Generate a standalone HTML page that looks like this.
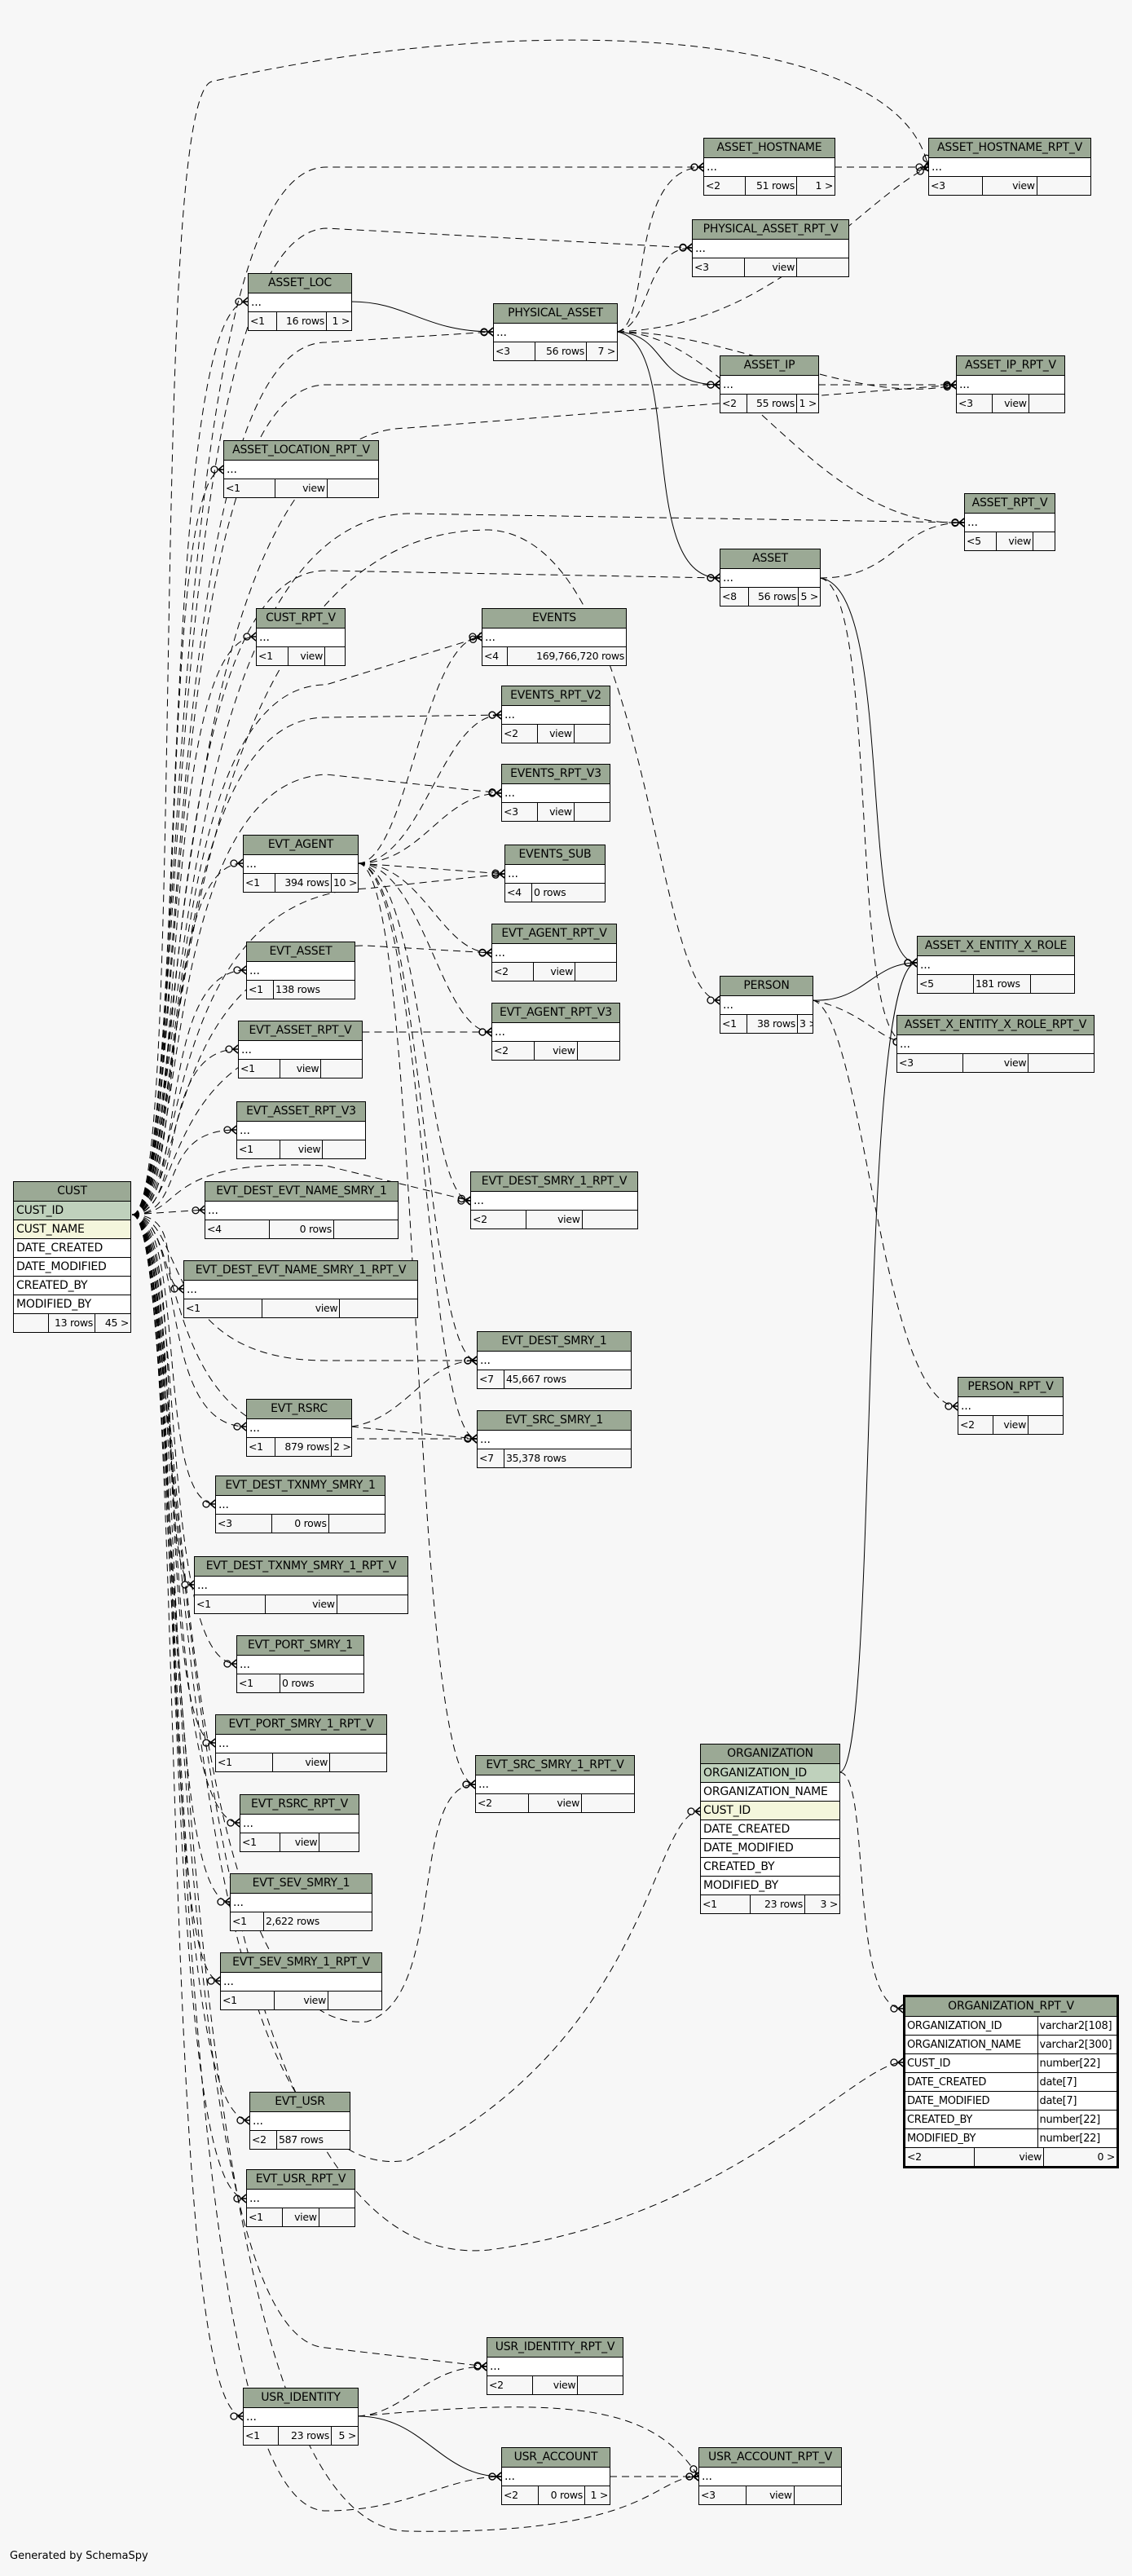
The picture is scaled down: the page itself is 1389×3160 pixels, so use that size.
<!DOCTYPE html>
<html><head><meta charset="utf-8"><style>
body{margin:0;width:1389px;height:3160px;background:#f7f7f7;position:relative;overflow:hidden;font-family:"DejaVu Sans","Liberation Sans",sans-serif}
.t{position:absolute;border:1px solid #000;background:#fff;font-size:14px;box-sizing:border-box;z-index:2}
.h{height:23px;background:#9ba995;text-align:center;border-bottom:1px solid #000;line-height:23px;white-space:nowrap;overflow:hidden;letter-spacing:-0.2px}
.r{height:22px;border-bottom:1px solid #000;line-height:22px;padding-left:3px;white-space:nowrap;overflow:hidden;letter-spacing:-0.2px}
.f{display:flex;height:22px;line-height:22px;background:#f7f7f7;font-size:12.5px;letter-spacing:-0.3px}
.f span{flex:1;border-right:1px solid #000;padding:0 2px;white-space:nowrap;overflow:hidden}
.f span:last-child{border-right:0;text-align:right}
.f span:nth-child(2){text-align:right}
.pk{background:#bfd1bc}.ix{background:#f4f6dc}
.o td{border-right:1px solid #000;border-bottom:1px solid #000;height:22px;padding:0 2px;white-space:nowrap;font-size:13px;letter-spacing:-0.3px;overflow:hidden}
svg{position:absolute;left:0;top:0;z-index:1}
</style></head><body>
<svg width="1389" height="3160" viewBox="0 0 1389 3160">
<defs><marker id="m" markerUnits="userSpaceOnUse" viewBox="-16 -7 17 14" refX="0" refY="0" markerWidth="17" markerHeight="14" orient="auto"><circle cx="-11" cy="0" r="4" fill="none" stroke="#000" stroke-width="1.3"/><path d="M-6 0L0 -5M-6 0L0 5M-6 0L0 0" stroke="#000" stroke-width="1.5" fill="none"/></marker></defs>
<g fill="none" stroke="#000" stroke-width="1" stroke-dasharray="9,6" marker-end="url(#m)">
<path d="M162 1490C230 1490 180 120 260 100 C600 20 1100 20 1139 205"/>
<path d="M162 1490C230 1490 190 205 400 205 L863 205"/>
<path d="M162 1490C230 1490 190 290 400 280 L849 304"/>
<path d="M162 1490C230 1490 190 370 304 370"/>
<path d="M162 1490C230 1490 190 420 400 420 L605 407"/>
<path d="M162 1490C230 1490 190 472 400 472 L883 472"/>
<path d="M162 1490C230 1490 190 530 500 525 L1173 472"/>
<path d="M162 1490C230 1490 190 576 274 576"/>
<path d="M162 1490C230 1490 190 640 500 630 L1183 641"/>
<path d="M162 1490C230 1490 190 700 400 700 L883 709"/>
<path d="M162 1490C230 1490 190 781 314 781"/>
<path d="M162 1490C230 1490 190 840 400 840 L591 781"/>
<path d="M162 1490C230 1490 190 880 400 880 L615 877"/>
<path d="M162 1490C230 1490 190 960 400 950 L615 973"/>
<path d="M162 1490C230 1490 190 1059 298 1059"/>
<path d="M162 1490C230 1490 190 1100 450 1090 L619 1072"/>
<path d="M162 1490C230 1490 190 1190 302 1190"/>
<path d="M162 1490C230 1490 190 1160 450 1160 L603 1169"/>
<path d="M162 1490C230 1490 190 650 600 650 C800 660 800 1227 883 1227"/>
<path d="M162 1490C230 1490 190 1266 450 1266 L603 1266"/>
<path d="M162 1490C230 1490 190 1287 292 1287"/>
<path d="M162 1490C230 1490 190 1386 290 1386"/>
<path d="M162 1490L251 1484"/>
<path d="M162 1490C230 1490 190 1581 225 1581"/>
<path d="M162 1490C230 1490 190 1420 400 1430 L577 1473"/>
<path d="M162 1490C230 1490 190 1669 400 1669 L585 1669"/>
<path d="M162 1490C230 1490 190 1765 400 1765 L585 1765"/>
<path d="M162 1490C230 1490 190 1750 302 1750"/>
<path d="M162 1490C230 1490 190 1845 264 1845"/>
<path d="M162 1490C230 1490 190 1944 238 1944"/>
<path d="M162 1490C230 1490 190 2041 290 2041"/>
<path d="M162 1490C230 1490 190 2138 264 2138"/>
<path d="M162 1490C230 1490 190 2236 294 2236"/>
<path d="M162 1490C230 1490 190 2333 282 2333"/>
<path d="M162 1490C230 1490 190 2430 270 2430"/>
<path d="M162 1490C230 1490 190 2500 450 2480 C550 2450 500 2189 583 2189"/>
<path d="M162 1490C230 1490 190 2700 500 2650 C800 2500 800 2222 859 2222"/>
<path d="M162 1490C230 1490 190 2800 600 2760 C900 2720 1050 2530 1108 2530"/>
<path d="M162 1490C230 1490 190 2601 306 2601"/>
<path d="M162 1490C230 1490 190 2697 302 2697"/>
<path d="M162 1490C230 1490 190 2870 400 2880 L597 2903"/>
<path d="M162 1490C230 1490 190 2964 298 2964"/>
<path d="M162 1490C230 1490 190 3080 400 3080 C500 3080 550 3038 615 3038"/>
<path d="M162 1490C230 1490 190 3100 500 3105 C800 3110 800 3038 857 3038"/>
<path d="M757 407C800 400 770 205 863 205"/>
<path d="M757 407C800 400 790 304 849 304"/>
<path d="M757 407C900 407 1050 500 1173 472"/>
<path d="M757 407C900 407 1000 650 1183 641"/>
<path d="M757 407C950 400 1050 250 1139 205"/>
<path d="M1024 205L1139 205"/>
<path d="M1004 472L1173 472"/>
<path d="M1006 709C1100 709 1100 641 1183 641"/>
<path d="M1006 709C1080 720 1040 1278 1111 1278"/>
<path d="M997 1227C1060 1240 1080 1278 1111 1278"/>
<path d="M997 1227C1060 1240 1080 1725 1175 1725"/>
<path d="M439 1059C500 1059 520 781 591 781"/>
<path d="M439 1059C520 1059 540 877 615 877"/>
<path d="M439 1059C520 1059 540 973 615 973"/>
<path d="M439 1059L619 1072"/>
<path d="M439 1059C520 1059 540 1169 603 1169"/>
<path d="M439 1059C520 1059 540 1266 603 1266"/>
<path d="M439 1059C520 1059 520 1473 577 1473"/>
<path d="M439 1059C520 1059 520 1669 585 1669"/>
<path d="M439 1059C520 1059 520 1765 585 1765"/>
<path d="M439 1059C520 1059 500 2189 583 2189"/>
<path d="M431 1750C500 1740 520 1669 585 1669"/>
<path d="M431 1750L585 1765"/>
<path d="M1030 2174C1070 2174 1040 2464 1108 2464"/>
<path d="M439 2964C500 2960 520 2903 597 2903"/>
<path d="M439 2964C700 2940 800 2950 857 3038"/>
<path d="M748 3038L857 3038"/>
</g>
<g fill="none" stroke="#000" stroke-width="1" marker-end="url(#m)">
<path d="M431 370C500 370 520 407 605 407"/>
<path d="M757 407C820 410 800 472 883 472"/>
<path d="M757 407C840 420 780 709 883 709"/>
<path d="M1006 709C1100 720 1050 1181 1125 1181"/>
<path d="M997 1227C1060 1230 1070 1181 1125 1181"/>
<path d="M1030 2174C1080 2174 1050 1181 1125 1181"/>
<path d="M439 2964C520 2964 540 3038 615 3038"/>
</g>
</svg>

<div class="t" style="left:16px;top:1449px;width:145px"><div class="h">CUST</div><div class="r pk">CUST_ID</div><div class="r ix">CUST_NAME</div><div class="r">DATE_CREATED</div><div class="r">DATE_MODIFIED</div><div class="r">CREATED_BY</div><div class="r">MODIFIED_BY</div><div class="f"><span style="flex:0 0 38px"></span><span style="flex:0 0 52px">13 rows</span><span>45 &gt;</span></div></div>

<div class="t" style="left:863px;top:169px;width:162px"><div class="h">ASSET_HOSTNAME</div><div class="r">...</div><div class="f"><span style="flex:0 0 46px">&lt;2</span><span style="flex:0 0 58px">51 rows</span><span>1 &gt;</span></div></div>
<div class="t" style="left:1139px;top:169px;width:200px"><div class="h">ASSET_HOSTNAME_RPT_V</div><div class="r">...</div><div class="f"><span>&lt;3</span><span>view</span><span></span></div></div>
<div class="t" style="left:849px;top:269px;width:193px"><div class="h">PHYSICAL_ASSET_RPT_V</div><div class="r">...</div><div class="f"><span>&lt;3</span><span>view</span><span></span></div></div>
<div class="t" style="left:304px;top:335px;width:128px"><div class="h">ASSET_LOC</div><div class="r">...</div><div class="f"><span style="flex:0 0 30px">&lt;1</span><span style="flex:0 0 56px">16 rows</span><span>1 &gt;</span></div></div>
<div class="t" style="left:605px;top:372px;width:153px"><div class="h">PHYSICAL_ASSET</div><div class="r">...</div><div class="f"><span style="flex:0 0 46px">&lt;3</span><span style="flex:0 0 58px">56 rows</span><span>7 &gt;</span></div></div>
<div class="t" style="left:883px;top:436px;width:122px"><div class="h">ASSET_IP</div><div class="r">...</div><div class="f"><span style="flex:0 0 28px">&lt;2</span><span style="flex:0 0 56px">55 rows</span><span>1 &gt;</span></div></div>
<div class="t" style="left:1173px;top:436px;width:134px"><div class="h">ASSET_IP_RPT_V</div><div class="r">...</div><div class="f"><span>&lt;3</span><span>view</span><span></span></div></div>
<div class="t" style="left:274px;top:540px;width:191px"><div class="h">ASSET_LOCATION_RPT_V</div><div class="r">...</div><div class="f"><span>&lt;1</span><span>view</span><span></span></div></div>
<div class="t" style="left:883px;top:673px;width:124px"><div class="h">ASSET</div><div class="r">...</div><div class="f"><span style="flex:0 0 30px">&lt;8</span><span style="flex:0 0 56px">56 rows</span><span>5 &gt;</span></div></div>
<div class="t" style="left:1183px;top:605px;width:112px"><div class="h">ASSET_RPT_V</div><div class="r">...</div><div class="f"><span style="flex:0 0 34px">&lt;5</span><span style="flex:0 0 40px">view</span><span></span></div></div>
<div class="t" style="left:314px;top:746px;width:110px"><div class="h">CUST_RPT_V</div><div class="r">...</div><div class="f"><span style="flex:0 0 34px">&lt;1</span><span style="flex:0 0 40px">view</span><span></span></div></div>
<div class="t" style="left:591px;top:746px;width:178px"><div class="h">EVENTS</div><div class="r">...</div><div class="f"><span style="flex:0 0 26px">&lt;4</span><span>169,766,720 rows</span></div></div>
<div class="t" style="left:615px;top:841px;width:134px"><div class="h">EVENTS_RPT_V2</div><div class="r">...</div><div class="f"><span>&lt;2</span><span>view</span><span></span></div></div>
<div class="t" style="left:615px;top:937px;width:134px"><div class="h">EVENTS_RPT_V3</div><div class="r">...</div><div class="f"><span>&lt;3</span><span>view</span><span></span></div></div>
<div class="t" style="left:298px;top:1024px;width:142px"><div class="h">EVT_AGENT</div><div class="r">...</div><div class="f"><span style="flex:0 0 34px">&lt;1</span><span style="flex:0 0 64px">394 rows</span><span>10 &gt;</span></div></div>
<div class="t" style="left:619px;top:1036px;width:124px"><div class="h">EVENTS_SUB</div><div class="r">...</div><div class="f"><span style="flex:0 0 28px">&lt;4</span><span style="text-align:left">0 rows</span></div></div>
<div class="t" style="left:302px;top:1155px;width:134px"><div class="h">EVT_ASSET</div><div class="r">...</div><div class="f"><span style="flex:0 0 28px">&lt;1</span><span style="text-align:left">138 rows</span></div></div>
<div class="t" style="left:603px;top:1133px;width:154px"><div class="h">EVT_AGENT_RPT_V</div><div class="r">...</div><div class="f"><span>&lt;2</span><span>view</span><span></span></div></div>
<div class="t" style="left:603px;top:1230px;width:158px"><div class="h">EVT_AGENT_RPT_V3</div><div class="r">...</div><div class="f"><span>&lt;2</span><span>view</span><span></span></div></div>
<div class="t" style="left:292px;top:1252px;width:153px"><div class="h">EVT_ASSET_RPT_V</div><div class="r">...</div><div class="f"><span>&lt;1</span><span>view</span><span></span></div></div>
<div class="t" style="left:290px;top:1351px;width:159px"><div class="h">EVT_ASSET_RPT_V3</div><div class="r">...</div><div class="f"><span>&lt;1</span><span>view</span><span></span></div></div>
<div class="t" style="left:251px;top:1449px;width:238px"><div class="h">EVT_DEST_EVT_NAME_SMRY_1</div><div class="r">...</div><div class="f"><span>&lt;4</span><span>0 rows</span><span></span></div></div>
<div class="t" style="left:225px;top:1546px;width:288px"><div class="h">EVT_DEST_EVT_NAME_SMRY_1_RPT_V</div><div class="r">...</div><div class="f"><span>&lt;1</span><span>view</span><span></span></div></div>
<div class="t" style="left:577px;top:1437px;width:206px"><div class="h">EVT_DEST_SMRY_1_RPT_V</div><div class="r">...</div><div class="f"><span>&lt;2</span><span>view</span><span></span></div></div>
<div class="t" style="left:585px;top:1633px;width:190px"><div class="h">EVT_DEST_SMRY_1</div><div class="r">...</div><div class="f"><span style="flex:0 0 28px">&lt;7</span><span style="text-align:left">45,667 rows</span></div></div>
<div class="t" style="left:585px;top:1730px;width:190px"><div class="h">EVT_SRC_SMRY_1</div><div class="r">...</div><div class="f"><span style="flex:0 0 28px">&lt;7</span><span style="text-align:left">35,378 rows</span></div></div>
<div class="t" style="left:302px;top:1716px;width:130px"><div class="h">EVT_RSRC</div><div class="r">...</div><div class="f"><span style="flex:0 0 30px">&lt;1</span><span style="flex:0 0 64px">879 rows</span><span>2 &gt;</span></div></div>
<div class="t" style="left:264px;top:1810px;width:209px"><div class="h">EVT_DEST_TXNMY_SMRY_1</div><div class="r">...</div><div class="f"><span>&lt;3</span><span>0 rows</span><span></span></div></div>
<div class="t" style="left:238px;top:1909px;width:263px"><div class="h">EVT_DEST_TXNMY_SMRY_1_RPT_V</div><div class="r">...</div><div class="f"><span>&lt;1</span><span>view</span><span></span></div></div>
<div class="t" style="left:290px;top:2006px;width:157px"><div class="h">EVT_PORT_SMRY_1</div><div class="r">...</div><div class="f"><span style="flex:0 0 48px">&lt;1</span><span style="text-align:left">0 rows</span></div></div>
<div class="t" style="left:264px;top:2103px;width:211px"><div class="h">EVT_PORT_SMRY_1_RPT_V</div><div class="r">...</div><div class="f"><span>&lt;1</span><span>view</span><span></span></div></div>
<div class="t" style="left:294px;top:2201px;width:147px"><div class="h">EVT_RSRC_RPT_V</div><div class="r">...</div><div class="f"><span>&lt;1</span><span>view</span><span></span></div></div>
<div class="t" style="left:282px;top:2298px;width:175px"><div class="h">EVT_SEV_SMRY_1</div><div class="r">...</div><div class="f"><span style="flex:0 0 36px">&lt;1</span><span style="text-align:left">2,622 rows</span></div></div>
<div class="t" style="left:270px;top:2395px;width:199px"><div class="h">EVT_SEV_SMRY_1_RPT_V</div><div class="r">...</div><div class="f"><span>&lt;1</span><span>view</span><span></span></div></div>
<div class="t" style="left:583px;top:2153px;width:196px"><div class="h">EVT_SRC_SMRY_1_RPT_V</div><div class="r">...</div><div class="f"><span>&lt;2</span><span>view</span><span></span></div></div>

<div class="t" style="left:859px;top:2139px;width:172px"><div class="h">ORGANIZATION</div><div class="r pk">ORGANIZATION_ID</div><div class="r">ORGANIZATION_NAME</div><div class="r ix">CUST_ID</div><div class="r">DATE_CREATED</div><div class="r">DATE_MODIFIED</div><div class="r">CREATED_BY</div><div class="r">MODIFIED_BY</div><div class="f"><span style="flex:0 0 56px">&lt;1</span><span style="flex:0 0 62px">23 rows</span><span>3 &gt;</span></div></div>

<div class="t" style="left:1108px;top:2447px;width:265px;border:3px solid #000"><div class="h">ORGANIZATION_RPT_V</div>
<table class="o" style="border-collapse:collapse;width:100%;table-layout:fixed"><col style="width:162px"><col>
<tr><td>ORGANIZATION_ID</td><td style="border-right:0">varchar2[108]</td></tr>
<tr><td>ORGANIZATION_NAME</td><td style="border-right:0">varchar2[300]</td></tr>
<tr><td>CUST_ID</td><td style="border-right:0">number[22]</td></tr>
<tr><td>DATE_CREATED</td><td style="border-right:0">date[7]</td></tr>
<tr><td>DATE_MODIFIED</td><td style="border-right:0">date[7]</td></tr>
<tr><td>CREATED_BY</td><td style="border-right:0">number[22]</td></tr>
<tr><td>MODIFIED_BY</td><td style="border-right:0">number[22]</td></tr>
</table>
<div class="f"><span style="flex:0 0 80px">&lt;2</span><span style="flex:0 0 80px">view</span><span>0 &gt;</span></div></div>

<div class="t" style="left:306px;top:2566px;width:124px"><div class="h">EVT_USR</div><div class="r">...</div><div class="f"><span style="flex:0 0 28px">&lt;2</span><span style="text-align:left">587 rows</span></div></div>
<div class="t" style="left:302px;top:2661px;width:134px"><div class="h">EVT_USR_RPT_V</div><div class="r">...</div><div class="f"><span>&lt;1</span><span>view</span><span></span></div></div>
<div class="t" style="left:597px;top:2867px;width:168px"><div class="h">USR_IDENTITY_RPT_V</div><div class="r">...</div><div class="f"><span>&lt;2</span><span>view</span><span></span></div></div>
<div class="t" style="left:298px;top:2929px;width:142px"><div class="h">USR_IDENTITY</div><div class="r">...</div><div class="f"><span style="flex:0 0 38px">&lt;1</span><span style="flex:0 0 60px">23 rows</span><span>5 &gt;</span></div></div>
<div class="t" style="left:615px;top:3002px;width:134px"><div class="h">USR_ACCOUNT</div><div class="r">...</div><div class="f"><span style="flex:0 0 40px">&lt;2</span><span style="flex:0 0 52px">0 rows</span><span>1 &gt;</span></div></div>
<div class="t" style="left:857px;top:3002px;width:176px"><div class="h">USR_ACCOUNT_RPT_V</div><div class="r">...</div><div class="f"><span>&lt;3</span><span>view</span><span></span></div></div>
<div class="t" style="left:883px;top:1197px;width:115px"><div class="h">PERSON</div><div class="r">...</div><div class="f"><span style="flex:0 0 28px">&lt;1</span><span style="flex:0 0 57px">38 rows</span><span>3 &gt;</span></div></div>
<div class="t" style="left:1125px;top:1148px;width:194px"><div class="h">ASSET_X_ENTITY_X_ROLE</div><div class="r">...</div><div class="f"><span style="flex:0 0 64px">&lt;5</span><span style="flex:0 0 65px;text-align:left">181 rows</span><span></span></div></div>
<div class="t" style="left:1100px;top:1245px;width:243px"><div class="h">ASSET_X_ENTITY_X_ROLE_RPT_V</div><div class="r">...</div><div class="f"><span>&lt;3</span><span>view</span><span></span></div></div>
<div class="t" style="left:1175px;top:1689px;width:130px"><div class="h">PERSON_RPT_V</div><div class="r">...</div><div class="f"><span>&lt;2</span><span>view</span><span></span></div></div>

<div style="position:absolute;left:12px;top:3128px;font-size:13px">Generated by SchemaSpy</div>
</body></html>
